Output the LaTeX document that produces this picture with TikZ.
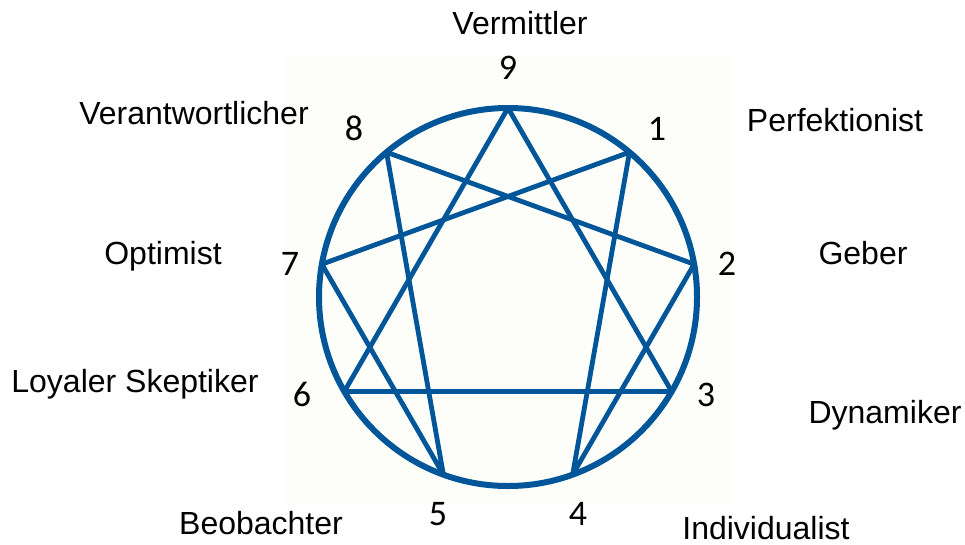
\documentclass[tikz,border=0pt]{standalone}
\usepackage{fontspec}
\setmainfont{Liberation Sans}
\newfontfamily\digitfont{Carlito}
\definecolor{ennblue}{RGB}{0,86,152}
\definecolor{paper}{RGB}{253,253,249}
\begin{document}
\begin{tikzpicture}[x=1pt,y=-1pt,
  lbl/.style={font=\fontsize{32}{36}\selectfont, inner sep=0pt, anchor=base},
  num/.style={font=\digitfont\fontsize{36}{40}\selectfont, inner sep=0pt, anchor=base},
  ring/.style={draw=ennblue, line width=6pt},
  figline/.style={draw=ennblue, line width=4.8pt, line join=round, line cap=round}]
\useasboundingbox (0,0) rectangle (965,544);
\fill[paper] (284,56) rectangle (732,502);
\coordinate (c) at (508,297);
\path (c) ++(-90:189) coordinate (p9)
      (c) ++(-50:189) coordinate (p1)
      (c) ++(-10:189) coordinate (p2)
      (c) ++(30:189) coordinate (p3)
      (c) ++(70:189) coordinate (p4)
      (c) ++(110:189) coordinate (p5)
      (c) ++(150:189) coordinate (p6)
      (c) ++(190:189) coordinate (p7)
      (c) ++(230:189) coordinate (p8);
\draw[ring] (c) circle[radius=189pt];
\draw[figline] (p9) -- (p3) -- (p6) -- cycle;
\draw[figline] (p1) -- (p4) -- (p2) -- (p8) -- (p5) -- (p7) -- cycle;
% numbers
\node[num] (n9) at (508,79) {9};
\node[num] (n1) at (657,140) {1};
\node[num] (n2) at (727,275) {2};
\node[num] (n3) at (706,406) {3};
\node[num] (n4) at (578,525) {4};
\node[num] (n5) at (438,525) {5};
\node[num] (n6) at (302,406) {6};
\node[num] (n7) at (290,275) {7};
\node[num] (n8) at (354,140) {8};
% labels
\node[lbl] (l9) at (520,34) {Vermittler};
\node[lbl] (l8) at (194,124) {Verantwortlicher};
\node[lbl] (l1) at (835,131) {Perfektionist};
\node[lbl] (l7) at (163,264) {Optimist};
\node[lbl] (l2) at (863,264) {Geber};
\node[lbl] (l6) at (135,392) {Loyaler Skeptiker};
\node[lbl] (l3) at (885,423) {Dynamiker};
\node[lbl] (l5) at (261,534) {Beobachter};
\node[lbl] (l4) at (766,539) {Individualist};
\end{tikzpicture}
\end{document}
